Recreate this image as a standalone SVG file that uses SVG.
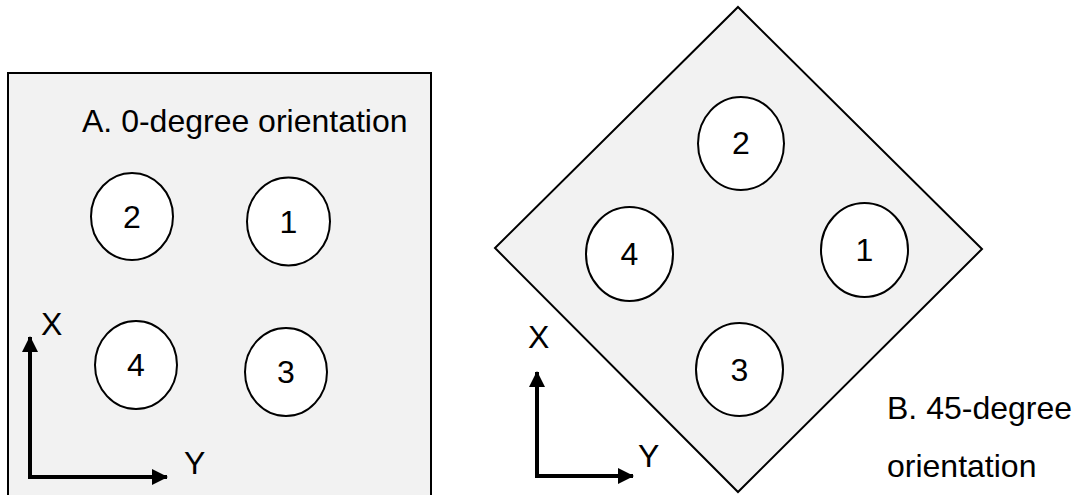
<svg xmlns="http://www.w3.org/2000/svg" width="1078" height="495" viewBox="0 0 1078 495">
<defs>
<style>
.plate{fill:#f2f2f2;stroke:#000;stroke-width:2}
.hole{fill:#fff;stroke:#000;stroke-width:2}
.t{font-family:"Liberation Sans",Arial,sans-serif;font-size:32px;fill:#000}
.c{text-anchor:middle}
.axis{fill:none;stroke:#000;stroke-width:4}
</style>
<marker id="ah" markerUnits="userSpaceOnUse" markerWidth="16" markerHeight="16" refX="15" refY="8" orient="auto">
<path d="M0,0 L16,8 L0,16 Z" fill="#000"/>
</marker>
</defs>
<rect width="1078" height="495" fill="#fff"/>
<g id="plateA">
<rect class="plate" x="8" y="73" width="423" height="430"/>
<text class="t" x="82" y="132">A. 0-degree orientation</text>
</g>
<g id="a2"><ellipse class="hole" cx="132" cy="216.5" rx="41" ry="43.5"/><text class="t c" x="132" y="228">2</text></g>
<g id="a1"><ellipse class="hole" cx="288.5" cy="221.5" rx="41.5" ry="44"/><text class="t c" x="288.5" y="233">1</text></g>
<g id="a4"><ellipse class="hole" cx="136" cy="365" rx="41" ry="44"/><text class="t c" x="136" y="376">4</text></g>
<g id="a3"><ellipse class="hole" cx="286" cy="372" rx="41" ry="44"/><text class="t c" x="286" y="383">3</text></g>
<g id="plateB">
<polygon class="plate" points="738,7 982,249 738,492 495,248"/>
<text class="t" x="887" y="419">B. 45-degree</text>
<text class="t" x="887" y="477">orientation</text>
</g>
<g id="b2"><ellipse class="hole" cx="741" cy="143.5" rx="43" ry="46.5"/><text class="t c" x="741" y="154">2</text></g>
<g id="b4"><ellipse class="hole" cx="629.5" cy="254" rx="43.5" ry="47"/><text class="t c" x="629.5" y="265">4</text></g>
<g id="b1"><ellipse class="hole" cx="864.5" cy="250" rx="43.5" ry="47"/><text class="t c" x="864.5" y="261">1</text></g>
<g id="b3"><ellipse class="hole" cx="739.5" cy="369.5" rx="43.5" ry="46.5"/><text class="t c" x="739.5" y="381">3</text></g>
<g id="connectors">
<line class="axis" x1="30" y1="479" x2="30" y2="337" marker-end="url(#ah)"/>
<line class="axis" x1="28" y1="477" x2="167" y2="477" marker-end="url(#ah)"/>
<line class="axis" x1="537" y1="478" x2="537" y2="372" marker-end="url(#ah)"/>
<line class="axis" x1="535" y1="476" x2="633" y2="476" marker-end="url(#ah)"/>
</g>
<g id="labels">
<text class="t" x="41" y="335">X</text>
<text class="t" x="184" y="474">Y</text>
<text class="t" x="528" y="348">X</text>
<text class="t" x="638" y="467">Y</text>
</g>
</svg>
